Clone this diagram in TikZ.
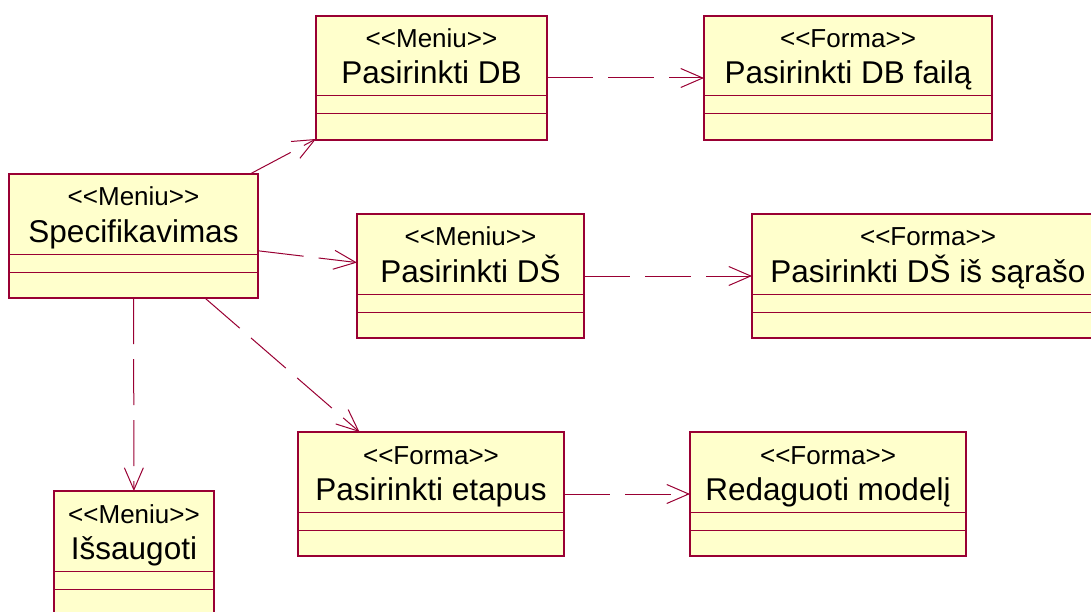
\documentclass[tikz,border=0pt]{standalone}
\usepackage{fontspec}
\setmainfont{Liberation Sans}
\usetikzlibrary{arrows.meta,positioning,calc}

\definecolor{roseline}{RGB}{153,0,51}
\definecolor{rosefill}{RGB}{255,255,204}

\begin{document}
\begin{tikzpicture}[x=1pt, y=-1pt,
    cls/.style={draw=roseline, fill=rosefill, line width=1.2pt, minimum height=124pt, anchor=north west, inner sep=0pt, outer sep=0pt},
    stereo/.style={anchor=base, font=\fontsize{26}{31}\selectfont, inner sep=0pt},
    title/.style={anchor=base, font=\fontsize{31.5}{38}\selectfont, inner sep=0pt},
    dep/.style={-{Straight Barb[length=22pt,width=19pt]}, roseline, line width=1pt, dash pattern=on 46pt off 15pt}
]
\useasboundingbox (0,0) rectangle (1091,612);
\clip (0,0) rectangle (1091,612);

% class boxes
\node[cls, minimum width=249pt] (spec) at (9,174) {};
\node[cls, minimum width=231pt] (db) at (316,16) {};
\node[cls, minimum width=288pt] (dbf) at (704,16) {};
\node[cls, minimum width=227pt] (ds) at (357,214) {};
\node[cls, minimum width=352pt] (dss) at (752,214) {};
\node[cls, minimum width=266pt] (et) at (298,432) {};
\node[cls, minimum width=276pt] (red) at (690,432) {};
\node[cls, minimum width=160pt] (sav) at (54,491) {};

% compartments and texts (kerns keep << and >> from turning into guillemets)
\foreach \n/\st/\nm in {spec/Meniu/Specifikavimas, db/Meniu/Pasirinkti DB,
    dbf/Forma/Pasirinkti DB failą, ds/Meniu/Pasirinkti DŠ,
    dss/Forma/Pasirinkti DŠ iš sąrašo, et/Forma/Pasirinkti etapus,
    red/Forma/Redaguoti modelį, sav/Meniu/Išsaugoti} {
  \draw[roseline, line width=1pt] ($(\n.north west)+(0,-80pt)$) -- ($(\n.north east)+(0,-80pt)$);
  \draw[roseline, line width=1pt] ($(\n.north west)+(0,-98pt)$) -- ($(\n.north east)+(0,-98pt)$);
  \node[stereo] (\n-st) at ($(\n.north)+(0,-32pt)$) {<\kern0pt<\kern0pt\st\kern0pt>\kern0pt>};
  \node[title] (\n-nm) at ($(\n.north)+(0,-68pt)$) {\nm};
}

% dependencies
\draw[dep] (spec) -- (db);
\draw[dep] (spec) -- (ds);
\draw[dep] (spec) -- (et);
\draw[dep] (spec) -- (sav);
\draw[dep] (db) -- (dbf);
\draw[dep] (ds) -- (dss);
\draw[dep] (et) -- (red);
\end{tikzpicture}
\end{document}
